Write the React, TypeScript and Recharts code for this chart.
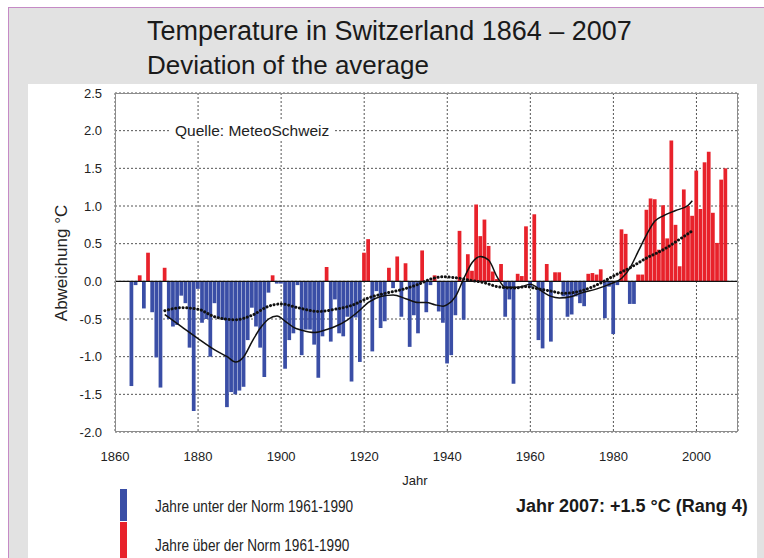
import { ComposedChart, Bar, Line, Cell, XAxis, YAxis, CartesianGrid, ReferenceLine } from 'recharts';

const FIRST_YEAR = 1864;

// annual deviation from the 1961-1990 norm, 1864 .. 2007
const deviations = [
  -1.39, -0.05, 0.08, -0.36, 0.38, -0.41, -1.01, -1.41, 0.18, -0.5,
  -0.6, -0.58, -0.19, -0.29, -0.88, -1.72, -0.1, -0.55, -0.5, -1.0,
  -0.29, -0.49, -0.51, -1.67, -1.47, -1.5, -1.45, -1.4, -0.78, -0.35,
  -0.6, -0.88, -1.27, -0.15, 0.08, -0.03, -0.03, -1.16, -0.78, -0.69,
  -0.05, -0.98, -0.64, -0.64, -0.84, -1.28, -0.73, 0.19, -0.8, -0.24,
  -0.69, -0.73, -0.47, -1.33, -0.48, -1.07, 0.38, 0.56, -0.93, -0.13,
  -0.62, -0.53, 0.18, -0.09, 0.33, -0.47, 0.24, -0.87, -0.45, -0.69,
  0.41, -0.41, -0.05, 0.08, -0.4, -0.55, -1.09, -0.98, -0.45, 0.67,
  -0.51, 0.36, 0.14, 1.02, 0.6, 0.82, 0.47, 0.13, 0.03, 0.23,
  -0.47, -0.24, -1.36, 0.1, 0.07, 0.73, -0.08, 0.89, -0.78, -0.89,
  0.23, -0.8, 0.12, 0.12, -0.2, -0.47, -0.44, -0.2, -0.29, -0.33,
  0.1, 0.11, 0.09, 0.16, -0.49, -0.07, -0.7, -0.05, 0.69, 0.63,
  -0.3, -0.3, 0.09, 0.09, 0.95, 1.1, 1.09, 0.42, 1.01, 0.57,
  1.87, 0.75, 0.2, 1.22, 1.0, 0.87, 1.47, 0.96, 1.58, 1.72,
  0.91, 0.51, 1.35, 1.5
];

// smoothed curves, read at a few years
const solidYears = [1872, 1876, 1880, 1884, 1887, 1889, 1891, 1893, 1895, 1897, 1899, 1901, 1903, 1905, 1908, 1911, 1913, 1916, 1919, 1921, 1924, 1927, 1930, 1933, 1935, 1937, 1939, 1940, 1942, 1944, 1946, 1948, 1950, 1952, 1954, 1957, 1960, 1963, 1965, 1967, 1970, 1972, 1976, 1979, 1982, 1984, 1986, 1988, 1990, 1992, 1995, 1998, 1999];
const solidValues = [-0.44, -0.6, -0.76, -0.91, -1.0, -1.07, -1.0, -0.8, -0.62, -0.5, -0.46, -0.53, -0.61, -0.65, -0.68, -0.64, -0.6, -0.51, -0.38, -0.28, -0.2, -0.18, -0.23, -0.28, -0.28, -0.31, -0.33, -0.31, -0.2, 0.04, 0.25, 0.33, 0.28, 0.06, -0.08, -0.08, -0.04, -0.14, -0.2, -0.22, -0.2, -0.16, -0.1, -0.04, 0.04, 0.18, 0.4, 0.62, 0.8, 0.87, 0.94, 1.01, 1.07];

const dottedYears = [1872, 1876, 1880, 1884, 1889, 1893, 1897, 1900, 1904, 1909, 1913, 1917, 1921, 1925, 1929, 1933, 1936, 1939, 1943, 1946, 1949, 1952, 1956, 1959, 1961, 1965, 1968, 1972, 1977, 1980, 1984, 1988, 1992, 1996, 1999];
const dottedValues = [-0.39, -0.35, -0.37, -0.47, -0.51, -0.45, -0.33, -0.3, -0.35, -0.4, -0.37, -0.32, -0.22, -0.16, -0.11, -0.04, 0.03, 0.06, 0.04, 0.01, -0.02, -0.07, -0.09, -0.07, -0.09, -0.13, -0.16, -0.13, -0.02, 0.07, 0.18, 0.31, 0.42, 0.56, 0.67];

const xTicks = [1860, 1880, 1900, 1920, 1940, 1960, 1980, 2000];
const yTicks = [-2, -1.5, -1, -0.5, 0, 0.5, 1, 1.5, 2, 2.5];

const BLUE = '#3a4ea6';
const RED = '#e8222b';
const FONT = '"Liberation Sans", Arial, sans-serif';

const data = deviations.map((v, i) => {
  const year = FIRST_YEAR + i;
  const si = solidYears.indexOf(year);
  const di = dottedYears.indexOf(year);
  return {
    year,
    dev: v,
    solid: si >= 0 ? solidValues[si] : null,
    dotted: di >= 0 ? dottedValues[di] : null,
  };
});

export default function App() {
  return (
    <div style={{ position: 'absolute', left: 0, top: 0, width: 764, height: 558, overflow: 'hidden', background: '#fff', fontFamily: FONT }}>
      <div style={{ position: 'absolute', left: 8, top: 7, right: 0, bottom: 0, background: '#e2e2e2', borderLeft: '1.5px solid #c58ac5', borderTop: '1.5px solid #c58ac5' }} />
      <div style={{ position: 'absolute', left: 28, top: 84, width: 729, bottom: 0, background: '#fff' }} />

      <div style={{ position: 'absolute', left: 147, top: 16, fontSize: 27, lineHeight: '30px', color: '#1a1a1a', whiteSpace: 'nowrap' }}>
        Temperature in Switzerland 1864 – 2007
      </div>
      <div style={{ position: 'absolute', left: 147, top: 50, fontSize: 26, lineHeight: '30px', color: '#1a1a1a', whiteSpace: 'nowrap' }}>
        Deviation of the average
      </div>

      <div style={{ position: 'absolute', left: 0, top: 0 }}>
        <ComposedChart width={764} height={558} data={data} margin={{ top: 93, right: 26, bottom: 96, left: 60 }} barCategoryGap={0} barGap={0}>
          <CartesianGrid stroke="#555" strokeDasharray="2 2" strokeWidth={1} />
          <XAxis
            dataKey="year"
            type="number"
            domain={[1860, 2010]}
            ticks={xTicks}
            allowDataOverflow
            height={30}
            axisLine={false}
            tickLine={false}
            tickSize={8}
            tickMargin={12}
            tick={{ fontSize: 13, fill: '#222', fontFamily: FONT }}
          />
          <YAxis
            type="number"
            domain={[-2, 2.5]}
            ticks={yTicks}
            width={55}
            axisLine={false}
            tickLine={false}
            tickSize={8}
            tickMargin={5}
            tickFormatter={(v: number) => v.toFixed(1)}
            tick={{ fontSize: 13, fill: '#222', fontFamily: FONT }}
          />
          <Bar dataKey="dev" barSize={4.3} isAnimationActive={false}>
            {data.map((d, i) => (
              <Cell key={i} fill={d.dev < 0 ? BLUE : RED} />
            ))}
          </Bar>
          <ReferenceLine y={0} stroke="#111" strokeWidth={1.3} />
          <Line dataKey="dotted" type="monotone" connectNulls stroke="#111" strokeWidth={3} strokeDasharray="0.1 3.6" strokeLinecap="round" dot={false} isAnimationActive={false} />
          <Line dataKey="solid" type="monotone" connectNulls stroke="#111" strokeWidth={1.5} dot={false} isAnimationActive={false} />
        </ComposedChart>
      </div>

      <div style={{ position: 'absolute', left: 115, top: 93, width: 623, height: 339, border: '1.5px solid #8c8c8c', boxSizing: 'border-box', pointerEvents: 'none' }} />

      <div style={{ position: 'absolute', left: 171, top: 121, fontSize: 15.5, lineHeight: '19px', background: '#fff', padding: '0 4px', color: '#222', whiteSpace: 'nowrap' }}>
        Quelle: MeteoSchweiz
      </div>

      <div style={{ position: 'absolute', left: 62, top: 263, transform: 'translate(-50%, -50%) rotate(-90deg)', fontSize: 17, color: '#222', whiteSpace: 'nowrap' }}>
        Abweichung °C
      </div>
      <div style={{ position: 'absolute', left: 415, top: 473, transform: 'translateX(-50%)', fontSize: 13, color: '#222' }}>
        Jahr
      </div>

      <div style={{ position: 'absolute', left: 120, top: 489, width: 7, height: 32, background: BLUE }} />
      <div style={{ position: 'absolute', left: 120, top: 522, width: 7, height: 36, background: RED }} />
      <div style={{ position: 'absolute', left: 155, top: 497, fontSize: 16, lineHeight: '20px', color: '#222', whiteSpace: 'nowrap', transform: 'scaleX(0.85)', transformOrigin: 'left center' }}>
        Jahre unter der Norm 1961-1990
      </div>
      <div style={{ position: 'absolute', left: 155, top: 536, fontSize: 16, lineHeight: '20px', color: '#222', whiteSpace: 'nowrap', transform: 'scaleX(0.85)', transformOrigin: 'left center' }}>
        Jahre über der Norm 1961-1990
      </div>
      <div style={{ position: 'absolute', left: 516, top: 495, fontSize: 18, lineHeight: '22px', fontWeight: 'bold', color: '#1a1a1a', whiteSpace: 'nowrap' }}>
        Jahr 2007: +1.5 °C (Rang 4)
      </div>
    </div>
  );
}
